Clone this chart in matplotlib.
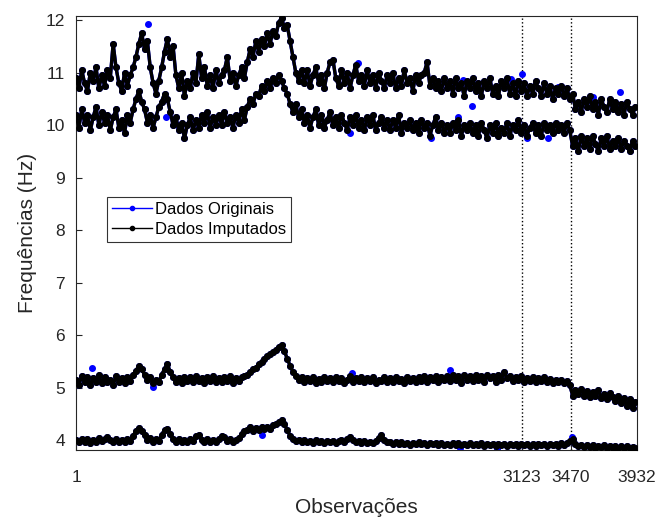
import numpy as np
import matplotlib
matplotlib.use("Agg")
import matplotlib.pyplot as plt

# Observation index of each sampled point (every 20 observations)
obs = np.arange(1, 3932, 20)

# Imputed series (Hz)
s11 = [10.9, 10.7, 11.05, 10.8, 10.65, 11.0, 10.85, 11.1, 10.7, 10.95,
       10.75, 11.05, 10.9, 11.55, 11.1, 10.8, 10.65, 11.0, 10.75, 10.95,
       11.1, 11.3, 11.55, 11.75, 11.45, 11.6, 11.1, 10.8, 10.6, 10.85,
       11.1, 11.4, 11.65, 11.3, 11.5, 10.95, 10.7, 11.0, 10.55, 10.85,
       10.7, 11.0, 10.8, 11.35, 10.9, 11.1, 10.75, 10.95, 10.7, 11.05,
       10.8, 10.95, 11.05, 11.3, 10.85, 11.0, 10.75, 10.95, 11.1, 10.9,
       11.2, 11.45, 11.3, 11.6, 11.4, 11.65, 11.5, 11.75, 11.55, 11.8,
       11.7, 11.95, 12.05, 11.85, 11.9, 11.6, 11.3, 11.0, 10.85, 11.05,
       10.8, 11.05, 10.75, 10.95, 11.1, 10.8, 10.95, 10.7, 11.0, 11.2,
       11.25, 10.9, 10.75, 11.05, 10.8, 11.0, 10.7, 10.95, 11.15, 10.85,
       10.95, 10.75, 11.05, 10.8, 10.95, 10.7, 11.0, 10.85, 10.7, 10.95,
       10.8, 11.0, 10.7, 10.9, 10.75, 11.05, 10.8, 10.9, 10.65, 10.95,
       10.8, 10.95, 11.0, 11.2, 10.75, 10.9, 10.7, 10.85, 10.65, 10.9,
       10.7, 10.85, 10.6, 10.9, 10.7, 10.8, 10.55, 10.85, 10.7, 10.9,
       10.65, 10.8, 10.55, 10.85, 10.7, 10.9, 10.6, 10.75, 10.55, 10.85,
       10.7, 10.9, 10.6, 10.8, 10.55, 10.85, 10.65, 10.8, 10.55, 10.75,
       10.6, 10.85, 10.7, 10.55, 10.8, 10.6, 10.75, 10.5, 10.7, 10.6,
       10.75, 10.55, 10.7, 10.5, 10.6, 10.3, 10.45, 10.25, 10.5, 10.35,
       10.55, 10.3, 10.45, 10.2, 10.5, 10.35, 10.25, 10.5, 10.3, 10.45,
       10.25, 10.4, 10.2, 10.45, 10.3, 10.2, 10.35]
s10 = [10.2, 9.95, 10.3, 10.05, 10.2, 9.9, 10.15, 10.35, 10.0, 10.25,
       10.05, 10.2, 9.9, 10.15, 10.3, 9.95, 10.1, 9.85, 10.2, 10.05,
       10.3, 10.5, 10.65, 10.45, 10.3, 10.05, 10.2, 9.95, 10.15, 10.35,
       10.45, 10.6, 10.5, 10.25, 10.0, 10.15, 9.9, 10.05, 9.75, 10.0,
       10.15, 9.9, 10.1, 9.95, 10.2, 10.05, 10.25, 9.95, 10.15, 10.0,
       10.2, 10.0, 10.25, 10.05, 10.15, 9.95, 10.2, 10.05, 10.3, 10.1,
       10.35, 10.5, 10.4, 10.6, 10.55, 10.75, 10.65, 10.85, 10.7, 10.9,
       10.8, 10.95, 10.85, 10.7, 10.6, 10.4, 10.25, 10.4, 10.15, 10.3,
       10.05, 10.2, 9.95, 10.15, 10.3, 10.0, 10.2, 9.95, 10.1, 10.25,
       10.0, 10.15, 9.95, 10.2, 10.05, 9.9, 10.15, 10.0, 10.2, 9.95,
       10.1, 9.9, 10.15, 10.0, 10.2, 9.9, 10.05, 10.15, 9.95, 10.1,
       9.9, 10.1, 9.95, 10.2, 9.85, 10.05, 9.95, 10.1, 9.9, 10.05,
       9.85, 10.1, 9.95, 10.05, 9.8, 10.0, 10.15, 9.9, 10.05, 9.85,
       10.0, 9.85, 10.05, 9.9, 10.1, 9.8, 10.0, 9.9, 10.05, 9.85,
       10.0, 9.8, 10.05, 9.9, 9.75, 10.0, 9.85, 10.05, 9.8, 9.95,
       9.85, 10.05, 9.8, 10.0, 9.9, 10.1, 9.85, 10.0, 9.8, 9.95,
       10.05, 9.85, 10.0, 9.8, 10.05, 9.9, 10.0, 9.85, 10.05, 9.9,
       10.0, 9.85, 10.05, 9.9, 9.6, 9.75, 9.5, 9.8, 9.6, 9.75,
       9.55, 9.8, 9.65, 9.5, 9.75, 9.6, 9.8, 9.55, 9.7, 9.6,
       9.75, 9.55, 9.7, 9.6, 9.5, 9.7, 9.6]
s5 = [5.15, 5.05, 5.22, 5.1, 5.2, 5.05, 5.18, 5.1, 5.25, 5.08,
      5.2, 5.1, 5.15, 5.05, 5.22, 5.1, 5.18, 5.08, 5.2, 5.12,
      5.25, 5.32, 5.42, 5.35, 5.25, 5.15, 5.2, 5.08, 5.15, 5.1,
      5.25, 5.35, 5.45, 5.3, 5.2, 5.1, 5.18, 5.08, 5.2, 5.12,
      5.2, 5.1, 5.22, 5.12, 5.18, 5.08, 5.2, 5.12, 5.22, 5.1,
      5.18, 5.1, 5.2, 5.12, 5.22, 5.08, 5.18, 5.12, 5.2, 5.22,
      5.25, 5.3, 5.35, 5.38, 5.45, 5.48, 5.55, 5.6, 5.65, 5.68,
      5.72, 5.78, 5.82, 5.7, 5.55, 5.42, 5.3, 5.22, 5.15, 5.2,
      5.1, 5.18, 5.12, 5.2, 5.08, 5.16, 5.1, 5.2, 5.12, 5.18,
      5.1, 5.2, 5.12, 5.18, 5.08, 5.15, 5.22, 5.1, 5.18, 5.12,
      5.2, 5.1, 5.18, 5.12, 5.2, 5.08, 5.15, 5.12, 5.2, 5.1,
      5.18, 5.1, 5.2, 5.12, 5.16, 5.08, 5.2, 5.12, 5.18, 5.1,
      5.2, 5.12, 5.22, 5.1, 5.2, 5.14, 5.22, 5.1, 5.2, 5.15,
      5.22, 5.12, 5.25, 5.15, 5.22, 5.08, 5.25, 5.15, 5.22, 5.12,
      5.25, 5.15, 5.22, 5.1, 5.25, 5.18, 5.22, 5.1, 5.25, 5.15,
      5.3, 5.18, 5.22, 5.12, 5.2, 5.15, 5.22, 5.1, 5.18, 5.12,
      5.2, 5.1, 5.18, 5.12, 5.2, 5.1, 5.16, 5.08, 5.15, 5.1,
      5.15, 5.08, 5.12, 5.05, 4.85, 4.95, 4.88, 4.98, 4.85, 4.93,
      4.82, 4.92, 4.85, 4.95, 4.8, 4.88, 4.78, 4.9, 4.82, 4.75,
      4.85, 4.7, 4.8, 4.65, 4.78, 4.62, 4.72]
s4 = [4.0, 3.96, 4.02, 3.97, 4.03, 3.95, 4.01, 3.97, 4.04, 3.98,
      4.02, 4.06, 4.0, 3.96, 4.02, 3.97, 4.01, 3.96, 4.03, 3.98,
      4.08, 4.18, 4.24, 4.18, 4.1, 4.0, 4.04, 3.97, 4.02, 3.98,
      4.1, 4.2, 4.22, 4.12, 4.02, 3.97, 4.02, 3.96, 4.01, 3.97,
      4.02, 3.98, 4.08, 4.1, 4.0, 3.97, 4.02, 3.96, 4.01, 3.97,
      4.02, 4.08, 4.06, 3.98, 4.02, 3.96, 4.01, 4.04, 4.12, 4.18,
      4.2, 4.25, 4.18, 4.24, 4.2, 4.26, 4.21, 4.25, 4.22, 4.28,
      4.3, 4.35, 4.38, 4.3, 4.2, 4.08, 4.02, 3.98, 4.0, 3.96,
      4.0, 3.96, 3.99, 3.95, 4.0, 3.96, 3.98, 3.94, 3.99, 3.96,
      3.99, 3.95, 3.98, 4.0, 3.96, 4.02, 4.06, 4.0, 3.96, 3.99,
      3.95, 3.98, 3.94, 3.97, 3.95, 3.99, 4.05, 4.1, 4.0, 3.96,
      3.97, 3.93, 3.96, 3.92, 3.96, 3.93, 3.95, 3.91, 3.95, 3.92,
      3.96, 3.92, 3.95, 3.91, 3.94, 3.92, 3.95, 3.91, 3.94, 3.9,
      3.93, 3.9, 3.94, 3.91, 3.95, 3.9, 3.93, 3.91, 3.94, 3.9,
      3.93, 3.9, 3.94, 3.89, 3.93, 3.9, 3.92, 3.89, 3.93, 3.9,
      3.92, 3.89, 3.93, 3.9, 3.92, 3.88, 3.92, 3.9, 3.93, 3.89,
      3.92, 3.89, 3.93, 3.9, 3.92, 3.89, 3.93, 3.9, 3.92, 3.89,
      3.94, 3.9, 3.95, 3.98, 4.02, 3.92, 3.88, 3.91, 3.87, 3.9,
      3.87, 3.9, 3.86, 3.89, 3.87, 3.9, 3.86, 3.89, 3.86, 3.88,
      3.85, 3.88, 3.86, 3.89, 3.85, 3.87, 3.86]

# Original-data points that remain visible around the imputed bands
orig_obs = [505, 1976, 2712, 3048, 3125, 3377, 3623, 3812,
            630, 715, 1920, 2487, 2677, 2775, 3160, 3307,
            112, 540, 1934, 2620,
            1303, 2690, 2950, 3475]
orig_val = [11.92, 11.18, 10.86, 10.88, 10.97, 10.72, 10.53, 10.63,
            10.15, 10.0, 9.85, 9.75, 10.15, 10.36, 9.75, 9.75,
            5.37, 5.01, 5.27, 5.33,
            4.1, 3.85, 3.84, 4.06]

marks = [3123, 3470]
xticks = [1, 3123, 3470, 3932]
yticks = [4, 5, 6, 7, 8, 9, 10, 11, 12]

plt.rcParams['font.family'] = ['Liberation Sans', 'DejaVu Sans']
fig = plt.figure(figsize=(6.67, 5.21), dpi=100)
ax = fig.add_axes([0.114, 0.136, 0.841, 0.833])

series = [s11, s10, s5, s4]
for s in series:
    ax.plot(obs, s, color='#0000ff', marker='.', markersize=8, linewidth=2.4, zorder=2)
ax.plot(orig_obs, orig_val, linestyle='none', color='#0000ff', marker='.',
        markersize=8, zorder=2)
for s in series:
    ax.plot(obs, s, color='black', marker='.', markersize=8, linewidth=2.4, zorder=3)

for m in marks:
    ax.axvline(m, color='black', linestyle=':', linewidth=1.0, zorder=1)

h1, = ax.plot([], [], color='#0000ff', marker='.', markersize=6, linewidth=1.0)
h2, = ax.plot([], [], color='black', marker='.', markersize=6, linewidth=1.0)
leg = ax.legend([h1, h2], ['Dados Originais', 'Dados Imputados'],
                loc='upper left', bbox_to_anchor=(0.055, 0.583), fontsize=12,
                frameon=True, fancybox=False, borderpad=0.3, labelspacing=0.3,
                handlelength=2.4, handletextpad=0.2, borderaxespad=0.0)
leg.get_frame().set_edgecolor('black')
leg.get_frame().set_linewidth(0.8)

ax.set_xlim(1, 3932)
ax.set_ylim(3.81, 12.076)
ax.set_xticks(xticks)
ax.set_xticklabels([str(t) for t in xticks])
ax.set_yticks(yticks)
ax.tick_params(direction='in', length=4, labelsize=12.5, colors='#262626',
               top=False, right=False)
ax.tick_params(axis='x', pad=14)
ax.tick_params(axis='y', pad=8)
for sp in ax.spines.values():
    sp.set_color('#262626')
    sp.set_linewidth(0.8)
ax.set_xlabel('Observações', fontsize=15, color='#262626', labelpad=10)
ax.set_ylabel('Frequências (Hz)', fontsize=15, color='#262626', labelpad=6)

fig.savefig('out.png', dpi=100)
